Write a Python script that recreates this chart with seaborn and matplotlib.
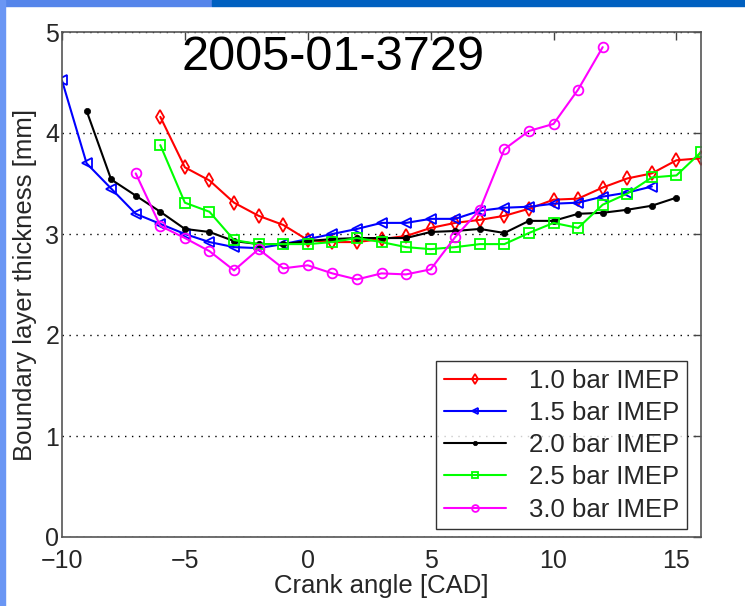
import matplotlib
matplotlib.use("Agg")
from matplotlib import pyplot as plt
from matplotlib.patches import Rectangle
import pandas as pd
import seaborn as sns

# ----------------- data
cad_10 = list(range(-6, 17))
bl_10 = [4.16, 3.66, 3.53, 3.31, 3.18, 3.09, 2.94, 2.92, 2.92, 2.95, 2.98, 3.06,
         3.11, 3.14, 3.18, 3.25, 3.34, 3.35, 3.46, 3.55, 3.60, 3.73, 3.75]

cad_15 = list(range(-10, 15))
bl_15 = [4.52, 3.70, 3.45, 3.20, 3.10, 3.00, 2.92, 2.87, 2.86, 2.90, 2.95, 3.00,
         3.05, 3.11, 3.11, 3.15, 3.15, 3.23, 3.26, 3.27, 3.30, 3.31, 3.37, 3.41, 3.47]

cad_20 = list(range(-9, 16))
bl_20 = [4.22, 3.54, 3.38, 3.22, 3.05, 3.02, 2.93, 2.90, 2.90, 2.93, 2.95, 2.96,
         2.96, 2.96, 3.02, 3.03, 3.05, 3.01, 3.13, 3.13, 3.20, 3.21, 3.24, 3.28, 3.36]

cad_25 = list(range(-6, 17))
bl_25 = [3.88, 3.31, 3.22, 2.94, 2.90, 2.90, 2.90, 2.92, 2.96, 2.92, 2.87, 2.85,
         2.87, 2.90, 2.90, 3.01, 3.11, 3.06, 3.29, 3.40, 3.56, 3.58, 3.81]

cad_30 = list(range(-7, 13))
bl_30 = [3.60, 3.08, 2.96, 2.83, 2.64, 2.85, 2.66, 2.69, 2.61, 2.55, 2.61, 2.60,
         2.65, 2.97, 3.24, 3.84, 4.02, 4.09, 4.43, 4.85]

labels = ['1.0 bar IMEP', '1.5 bar IMEP', '2.0 bar IMEP', '2.5 bar IMEP', '3.0 bar IMEP']
colors = ['#ff0000', '#0000ff', '#000000', '#00ff00', '#ff00ff']
markers = ['d', '<', '.', 's', 'o']

series = [(cad_10, bl_10), (cad_15, bl_15), (cad_20, bl_20), (cad_25, bl_25), (cad_30, bl_30)]

# ----------------- style
sns.set_style("white")
plt.rcParams['font.family'] = ['Liberation Sans', 'DejaVu Sans']

fig = plt.figure(figsize=(7.45, 6.06), dpi=100)
ax = fig.add_axes([62 / 745, 1 - 537 / 606, 639 / 745, 505 / 606])

for (x, y), lab, col, mk in zip(series, labels, colors, markers):
    df = pd.DataFrame({'Crank angle': x, 'Thickness': y})
    filled = mk == '.'
    sns.lineplot(data=df, x='Crank angle', y='Thickness', ax=ax, color=col,
                 marker=mk, markersize=9 if filled else 7,
                 markerfacecolor=col if filled else 'none',
                 markeredgecolor=col, markeredgewidth=1.3 if not filled else 0.5,
                 linewidth=1.5, label=lab)

ax.set_xlim(-10, 16)
ax.set_ylim(0, 5)
ax.set_xticks([-10, -5, 0, 5, 10, 15])
ax.set_yticks([0, 1, 2, 3, 4, 5])
ax.yaxis.grid(True, linestyle=(0, (1, 4)), color='black', linewidth=1.0)
ax.xaxis.grid(False)
ax.set_axisbelow(True)

ax.tick_params(direction='in', top=True, right=True, length=6, width=1,
               color='#444444', labelsize=18, pad=2)
ax.tick_params(axis='x', pad=9)
for sp in ax.spines.values():
    sp.set_color('#555555')
    sp.set_linewidth(1.2)

ax.set_xlabel('Crank angle [CAD]', fontsize=18.5, labelpad=0)
ax.set_ylabel('Boundary layer thickness [mm]', fontsize=18.5, labelpad=6)

ax.text(0.424, 0.995, '2005-01-3729', transform=ax.transAxes, ha='center', va='top',
        fontsize=35, color='black')

leg = ax.legend(loc='lower right', bbox_to_anchor=(0.99, 0.0), fontsize=18.5,
                frameon=True, fancybox=False, edgecolor='black', handlelength=2.4,
                labelspacing=0.32, borderpad=0.3, handletextpad=0.9,
                markerscale=0.7, borderaxespad=0.3)
leg.get_frame().set_linewidth(1.0)

# slide decoration (blue bars)
fig.patches.append(Rectangle((0, 1 - 6 / 606), 212 / 745, 6 / 606, transform=fig.transFigure,
                             color='#5585ea', zorder=0))
fig.patches.append(Rectangle((212 / 745, 1 - 6 / 606), 1, 6 / 606, transform=fig.transFigure,
                             color='#0060c0', zorder=0))
fig.patches.append(Rectangle((0, 0), 5 / 745, 1, transform=fig.transFigure,
                             color='#6a96f4', zorder=0))

fig.savefig('out.png', dpi=100)
